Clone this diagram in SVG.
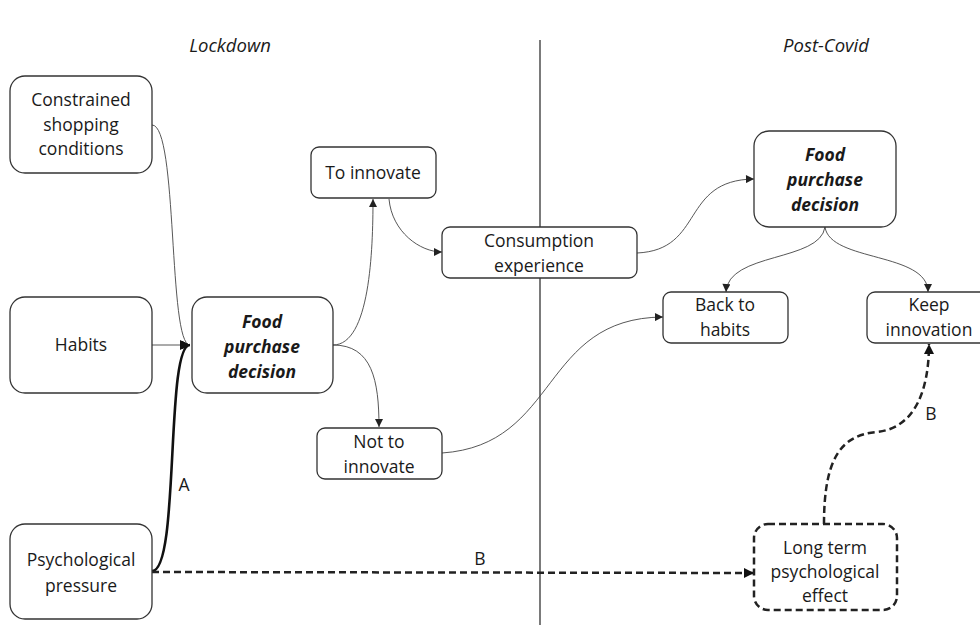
<svg xmlns="http://www.w3.org/2000/svg" width="980" height="625" viewBox="0 0 980 625">
<defs>
<style>
.box{fill:#fff;stroke:#333;stroke-width:1.3}
.dbox{fill:#fff;stroke:#222;stroke-width:2.5;stroke-dasharray:7 4}
.t{font-family:"Open Sans","Noto Sans",sans-serif;font-size:17.5px;fill:#1a1a1a;text-anchor:middle}
.b{font-weight:bold;font-style:italic}
.h{font-family:"Open Sans","Noto Sans",sans-serif;font-size:18.5px;font-style:italic;fill:#1a1a1a;text-anchor:middle}
.c{fill:none;stroke:#444;stroke-width:0.9}
.thick{fill:none;stroke:#111;stroke-width:2.6}
.dash{fill:none;stroke:#222;stroke-width:2.5;stroke-dasharray:7 4}
</style>
<marker id="a" viewBox="0 0 10 10" refX="10" refY="5" markerWidth="9" markerHeight="8" markerUnits="userSpaceOnUse" orient="auto">
<path d="M0,0 L10,5 L0,10 z" fill="#222"/>
</marker>
<marker id="ab" viewBox="0 0 10 10" refX="10" refY="5" markerWidth="11" markerHeight="10" markerUnits="userSpaceOnUse" orient="auto">
<path d="M0,0 L10,5 L0,10 z" fill="#111"/>
</marker>
</defs>
<rect width="980" height="625" fill="#fff"/>
<line x1="540" y1="40" x2="540" y2="625" stroke="#222" stroke-width="1.2"/>
<text class="h" x="230" y="52">Lockdown</text>
<text class="h" x="826" y="52">Post-Covid</text>

<g id="connectors">
<path class="c" d="M152,125 C178,125 168,345 190,345" marker-end="url(#a)"/>
<path class="c" d="M152,345 L190,345" marker-end="url(#a)"/>
<path class="thick" d="M152,571 C180,571 165,345 190,345" marker-end="url(#ab)"/>
<path class="c" d="M333,345 C370,345 373,250 373,199" marker-end="url(#a)"/>
<path class="c" d="M333,345 C372,345 379,380 379,427" marker-end="url(#a)"/>
<path class="c" d="M389,199 C392,232 420,252 442,252" marker-end="url(#a)"/>
<path class="c" d="M637,253 C705,250 680,180 754,179" marker-end="url(#a)"/>
<path class="c" d="M442,453 C560,445 540,318 663,317" marker-end="url(#a)"/>
<path class="c" d="M825,227 C820,262 728,252 726,292" marker-end="url(#a)"/>
<path class="c" d="M825,227 C830,262 928,252 928,292" marker-end="url(#a)"/>
<path class="dash" d="M152,572 L754,573" marker-end="url(#ab)"/>
<path class="dash" d="M824,524 C824,460 840,435 877,432 C915,428 929,390 929,344" marker-end="url(#ab)"/>
<text class="t" x="184" y="491">A</text>
<text class="t" x="480" y="565">B</text>
<text class="t" x="931" y="420">B</text>
</g>

<g id="constrained">
<rect class="box" x="10" y="76" width="142" height="97" rx="15"/>
<text class="t" x="81" y="106">Constrained</text>
<text class="t" x="81" y="131">shopping</text>
<text class="t" x="81" y="155">conditions</text>
</g>
<g id="habits">
<rect class="box" x="10" y="297" width="142" height="96" rx="15"/>
<text class="t" x="81" y="351">Habits</text>
</g>
<g id="psych">
<rect class="box" x="10" y="524" width="142" height="95" rx="15"/>
<text class="t" x="81" y="566">Psychological</text>
<text class="t" x="81" y="592">pressure</text>
</g>
<g id="fpd1">
<rect class="box" x="192" y="297" width="141" height="96" rx="15"/>
<text class="t b" x="262" y="328">Food</text>
<text class="t b" x="262" y="353">purchase</text>
<text class="t b" x="262" y="378">decision</text>
</g>
<g id="toinnovate">
<rect class="box" x="311" y="147" width="125" height="51" rx="8"/>
<text class="t" x="373" y="179">To innovate</text>
</g>
<g id="notinnovate">
<rect class="box" x="317" y="428" width="125" height="51" rx="8"/>
<text class="t" x="379" y="448">Not to</text>
<text class="t" x="379" y="473">innovate</text>
</g>
<g id="consumption">
<rect class="box" x="442" y="227" width="195" height="51" rx="8"/>
<text class="t" x="539" y="247">Consumption</text>
<text class="t" x="539" y="272">experience</text>
</g>
<g id="fpd2">
<rect class="box" x="754" y="131" width="142" height="96" rx="15"/>
<text class="t b" x="825" y="161">Food</text>
<text class="t b" x="825" y="186">purchase</text>
<text class="t b" x="825" y="211">decision</text>
</g>
<g id="backhabits">
<rect class="box" x="663" y="292" width="125" height="51" rx="8"/>
<text class="t" x="725" y="311">Back to</text>
<text class="t" x="725" y="336">habits</text>
</g>
<g id="keep">
<rect class="box" x="867" y="292" width="125" height="51" rx="8"/>
<text class="t" x="929" y="311">Keep</text>
<text class="t" x="929" y="336">innovation</text>
</g>
<g id="longterm">
<rect class="dbox" x="754" y="524" width="143" height="86" rx="14"/>
<text class="t" x="825" y="554">Long term</text>
<text class="t" x="825" y="578">psychological</text>
<text class="t" x="825" y="602">effect</text>
</g>
</svg>
